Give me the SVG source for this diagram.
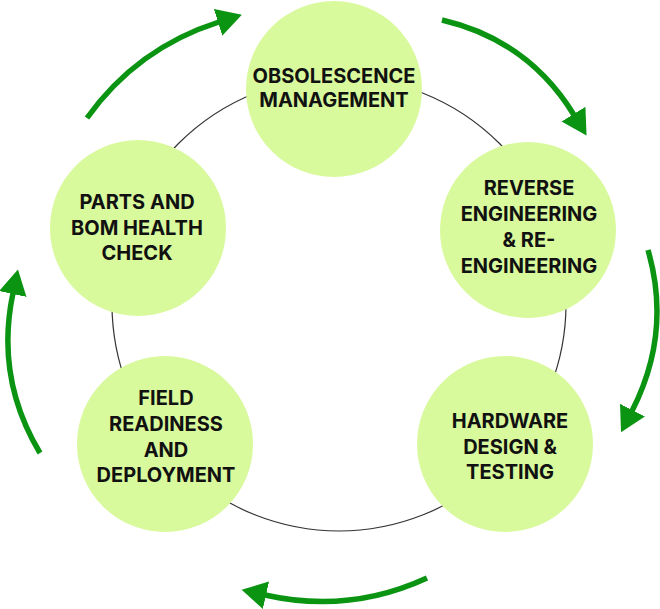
<svg xmlns="http://www.w3.org/2000/svg" width="660" height="609" viewBox="0 0 660 609">
<style>
.ring{fill:none;stroke:#333;stroke-width:1.2}
.node circle{fill:#d9f99d}
.node text{font-family:Inter,"Liberation Sans",Arial,sans-serif;font-weight:700;font-size:20px;fill:#111;text-anchor:middle}
.arr{fill:none;stroke:#0a9412;stroke-width:5.5}
</style>
<defs>
<marker id="ah" markerUnits="userSpaceOnUse" markerWidth="30" markerHeight="30" refX="1" refY="14" orient="auto">
<path d="M0,0 L25,14 L0,28 z" fill="#0a9412"/>
</marker>
</defs>
<circle class="ring" cx="339" cy="304" r="227"/>
<g id="connectors">
<path class="arr" d="M87,118 Q137,48 219,22" marker-end="url(#ah)"/>
<path class="arr" d="M442,20 Q528,40 574,115" marker-end="url(#ah)"/>
<path class="arr" d="M648,250 Q672,333 632,411" marker-end="url(#ah)"/>
<path class="arr" d="M427,578 Q349,614 265,595" marker-end="url(#ah)"/>
<path class="arr" d="M40,453 Q-5,378 13,293" marker-end="url(#ah)"/>
</g>
<g id="node-obsolescence" class="node">
<circle cx="334" cy="89" r="88"/>
<text x="334" y="83">OBSOLESCENCE</text>
<text x="334" y="107">MANAGEMENT</text>
</g>
<g id="node-reverse" class="node">
<circle cx="528" cy="230" r="88"/>
<text x="529" y="195">REVERSE</text>
<text x="529" y="221">ENGINEERING</text>
<text x="529" y="247">&amp; RE-</text>
<text x="529" y="273">ENGINEERING</text>
</g>
<g id="node-hardware" class="node">
<circle cx="505" cy="444" r="88"/>
<text x="510" y="428">HARDWARE</text>
<text x="510" y="454">DESIGN &amp;</text>
<text x="510" y="479">TESTING</text>
</g>
<g id="node-field" class="node">
<circle cx="165" cy="444" r="88"/>
<text x="166" y="405">FIELD</text>
<text x="166" y="431">READINESS</text>
<text x="166" y="457">AND</text>
<text x="166" y="482">DEPLOYMENT</text>
</g>
<g id="node-parts" class="node">
<circle cx="138" cy="228" r="88"/>
<text x="137" y="209">PARTS AND</text>
<text x="137" y="235">BOM HEALTH</text>
<text x="137" y="260">CHECK</text>
</g>
</svg>
